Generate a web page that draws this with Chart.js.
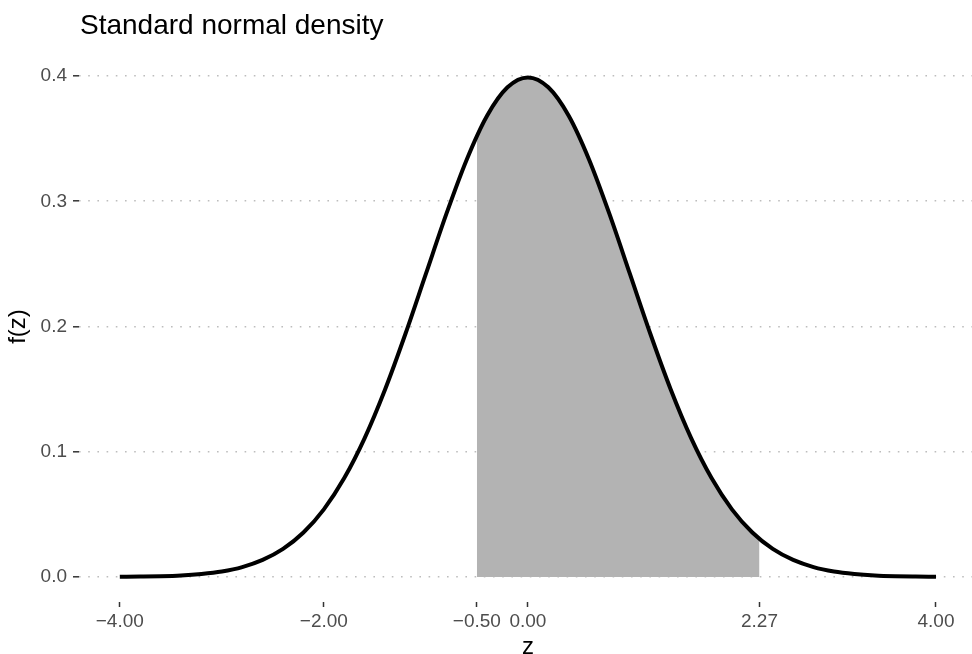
<!DOCTYPE html>
<html>
<head>
<meta charset="utf-8">
<script src="https://cdn.jsdelivr.net/npm/chart.js@4.4.0/dist/chart.umd.min.js"></script>
<style>
  html, body { margin: 0; padding: 0; background: #fff; overflow: hidden; }
  #wrap { width: 972px; height: 654px; position: relative; }
</style>
</head>
<body>
<div id="wrap"><canvas id="chartDensity" width="972" height="654"></canvas></div>
<script>
// density curve
var zCurve = [-4.0, -3.8, -3.6, -3.4, -3.2, -3.0, -2.8, -2.6, -2.4, -2.2, -2.0,
  -1.8, -1.6, -1.4, -1.2, -1.0, -0.8, -0.6, -0.4, -0.2, 0.0,
  0.2, 0.4, 0.6, 0.8, 1.0, 1.2, 1.4, 1.6, 1.8, 2.0,
  2.2, 2.4, 2.6, 2.8, 3.0, 3.2, 3.4, 3.6, 3.8, 4.0];
var fCurve = [0.0001, 0.0003, 0.0006, 0.0012, 0.0024, 0.0044, 0.0079, 0.0136, 0.0224, 0.0355, 0.0540,
  0.0790, 0.1109, 0.1497, 0.1942, 0.2420, 0.2897, 0.3332, 0.3683, 0.3910, 0.3989,
  0.3910, 0.3683, 0.3332, 0.2897, 0.2420, 0.1942, 0.1497, 0.1109, 0.0790, 0.0540,
  0.0355, 0.0224, 0.0136, 0.0079, 0.0044, 0.0024, 0.0012, 0.0006, 0.0003, 0.0001];

// shaded region between -0.50 and 2.27
var zShade = [-0.5, -0.4, -0.2, 0.0, 0.2, 0.4, 0.6, 0.8, 1.0, 1.2, 1.4, 1.6, 1.8, 2.0, 2.2, 2.27];
var fShade = [0.3521, 0.3683, 0.3910, 0.3989, 0.3910, 0.3683, 0.3332, 0.2897, 0.2420, 0.1942,
  0.1497, 0.1109, 0.0790, 0.0540, 0.0355, 0.0303];

var xTicks = [-4.0, -2.0, -0.5, 0.0, 2.27, 4.0];
var yTicks = [0.0, 0.1, 0.2, 0.3, 0.4];

var FONT = "'Liberation Sans', Arial, Helvetica, sans-serif";

function toPoints(xs, ys) {
  return xs.map(function (x, i) { return { x: x, y: ys[i] }; });
}

// titles drawn by hand so they sit where ggplot puts them
var titlesPlugin = {
  id: "titles",
  afterDraw: function (chart) {
    var c = chart.ctx;
    var area = chart.chartArea;
    c.save();
    c.fillStyle = "#000";
    c.textBaseline = "alphabetic";
    c.textAlign = "left";
    c.font = "28px " + FONT;
    c.fillText("Standard normal density", 80, 34);

    c.font = "24px " + FONT;
    c.textAlign = "center";
    c.fillText("z", chart.scales.x.getPixelForValue(0), 654);

    c.translate(25, (area.top + area.bottom) / 2);
    c.rotate(-Math.PI / 2);
    c.fillText("f(z)", 0, 0);
    c.restore();
  }
};

var ctx = document.getElementById("chartDensity");
var chartDensity = new Chart(ctx, {
  type: "line",
  data: {
    datasets: [
      {
        data: toPoints(zCurve, fCurve),
        borderColor: "#000000",
        borderWidth: 4,
        pointRadius: 0,
        fill: false,
        cubicInterpolationMode: "monotone"
      },
      {
        data: toPoints(zShade, fShade),
        borderWidth: 0,
        borderColor: "rgba(0,0,0,0)",
        backgroundColor: "#b3b3b3",
        pointRadius: 0,
        fill: "origin",
        cubicInterpolationMode: "monotone"
      }
    ]
  },
  options: {
    responsive: false,
    devicePixelRatio: 1,
    animation: false,
    layout: { padding: { top: 51, right: 0, left: 0, bottom: 0 } },
    plugins: {
      legend: { display: false },
      title: { display: false },
      tooltip: { enabled: false },
      filler: { propagate: false }
    },
    scales: {
      x: {
        type: "linear",
        min: -4.4,
        max: 4.353,
        border: { display: false },
        grid: {
          drawOnChartArea: false,
          drawTicks: true,
          tickLength: 5,
          tickColor: "#333333",
          tickWidth: 1.5
        },
        afterBuildTicks: function (scale) {
          scale.ticks = xTicks.map(function (v) { return { value: v }; });
        },
        afterFit: function (scale) { scale.height = 52; },
        ticks: {
          autoSkip: false,
          maxRotation: 0,
          padding: 3,
          color: "#4d4d4d",
          font: { family: FONT, size: 19 },
          callback: function (v) {
            var s = Math.abs(v).toFixed(2);
            return v < 0 ? "\u2212" + s : s;
          }
        }
      },
      y: {
        type: "linear",
        min: -0.02,
        max: 0.42,
        // in v4 the grid line dash sits under border.dash
        border: { display: false, dash: [1.6, 7.6] },
        grid: {
          color: "#bdbdbd",
          lineWidth: 1.6,
          drawTicks: true,
          tickLength: 6,
          tickColor: "#333333",
          tickWidth: 1.5,
          tickBorderDash: [0, 0]
        },
        afterBuildTicks: function (scale) {
          scale.ticks = yTicks.map(function (v) { return { value: v }; });
        },
        afterFit: function (scale) { scale.width = 79; },
        ticks: {
          padding: 6,
          color: "#4d4d4d",
          font: { family: FONT, size: 19 },
          callback: function (v) { return v.toFixed(1); }
        }
      }
    }
  },
  plugins: [titlesPlugin]
});
</script>
</body>
</html>
